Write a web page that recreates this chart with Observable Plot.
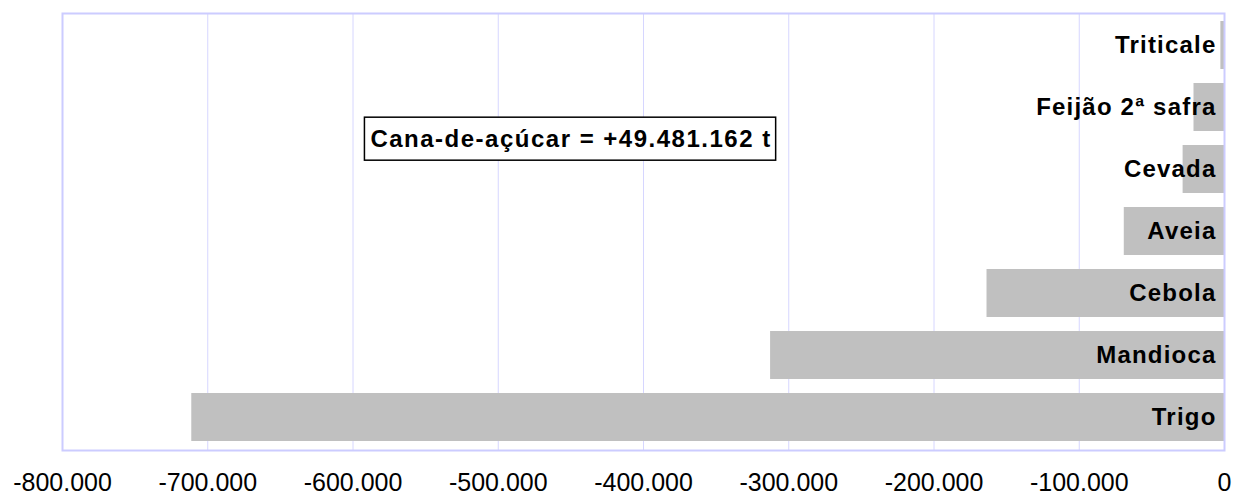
<!DOCTYPE html>
<html><head><meta charset="utf-8">
<script src="https://cdn.jsdelivr.net/npm/d3@7"></script>
<script src="https://cdn.jsdelivr.net/npm/@observablehq/plot@0.6"></script>
<style>
body{margin:0;background:#fff}
#chart{width:1233px;height:498px}
</style>
</head><body><div id="chart"></div>
<script>
const categories = ["Triticale", "Feijão 2ª safra", "Cevada", "Aveia", "Cebola", "Mandioca", "Trigo"];
const values = [-2500, -21000, -28500, -69000, -163500, -312500, -711000];
const xTicks = [-800000, -700000, -600000, -500000, -400000, -300000, -200000, -100000, 0];
const annotationText = "Cana-de-açúcar = +49.481.162 t";
const annotationX = -588000;
const annotationRow = "Cevada";

const data = categories.map((c, i) => ({crop: c, value: values[i]}));
const fmt = d => d === 0 ? "0" : (d < 0 ? "-" : "") + d3.format(",")(Math.abs(d)).replace(/,/g, ".");
const FONT = "'Liberation Sans', Arial, sans-serif";

const plot = Plot.plot({
  width: 1233,
  height: 498,
  marginLeft: 62,
  marginRight: 9,
  marginTop: 13,
  marginBottom: 48,
  style: {fontFamily: FONT, background: "#fff", color: "#000"},
  x: {domain: [-800000, 0], ticks: xTicks, tickFormat: fmt, label: null},
  y: {domain: categories, paddingInner: 0.22, paddingOuter: 0.11, axis: null},
  marks: [
    Plot.ruleX(xTicks, {stroke: "#d6d6ff", strokeWidth: 1}),
    Plot.barX(data, {x: "value", y: "crop", fill: "#c0c0c0"}),
    Plot.frame({stroke: "#ccccff", strokeWidth: 2}),
    Plot.text(data, {x: 0, y: "crop", text: "crop", textAnchor: "end", dx: -8, fontWeight: "bold", fontSize: 24, fill: "#000"}),
    Plot.text([annotationText], {x: annotationX, y: [annotationRow], text: d => d, textAnchor: "start", dy: -30, fontWeight: "bold", fontSize: 24, fill: "#000"}),
    Plot.axisX({ticks: xTicks, tickFormat: fmt, tickSize: 0, tickPadding: 23, fontSize: 25, label: null})
  ]
});
document.getElementById("chart").append(plot);

plot.querySelectorAll("text").forEach(t => {
  if (categories.includes(t.textContent)) t.style.letterSpacing = "1.2px";
});
// box around the annotation
const annot = Array.from(plot.querySelectorAll("text")).find(t => t.textContent === annotationText);
if (annot) {
  annot.style.letterSpacing = "1.5px";
  const bb = annot.getBBox();
  const cy = bb.y + bb.height / 2;
  const rect = document.createElementNS("http://www.w3.org/2000/svg", "rect");
  rect.setAttribute("x", bb.x - 6);
  rect.setAttribute("y", cy - 21.5);
  rect.setAttribute("width", bb.width + 10);
  rect.setAttribute("height", 43);
  rect.setAttribute("fill", "#fff");
  rect.setAttribute("stroke", "#000");
  rect.setAttribute("stroke-width", 1.5);
  const tr = annot.getAttribute("transform");
  if (tr) rect.setAttribute("transform", tr);
  annot.parentNode.insertBefore(rect, annot);
}
</script>
</body></html>
